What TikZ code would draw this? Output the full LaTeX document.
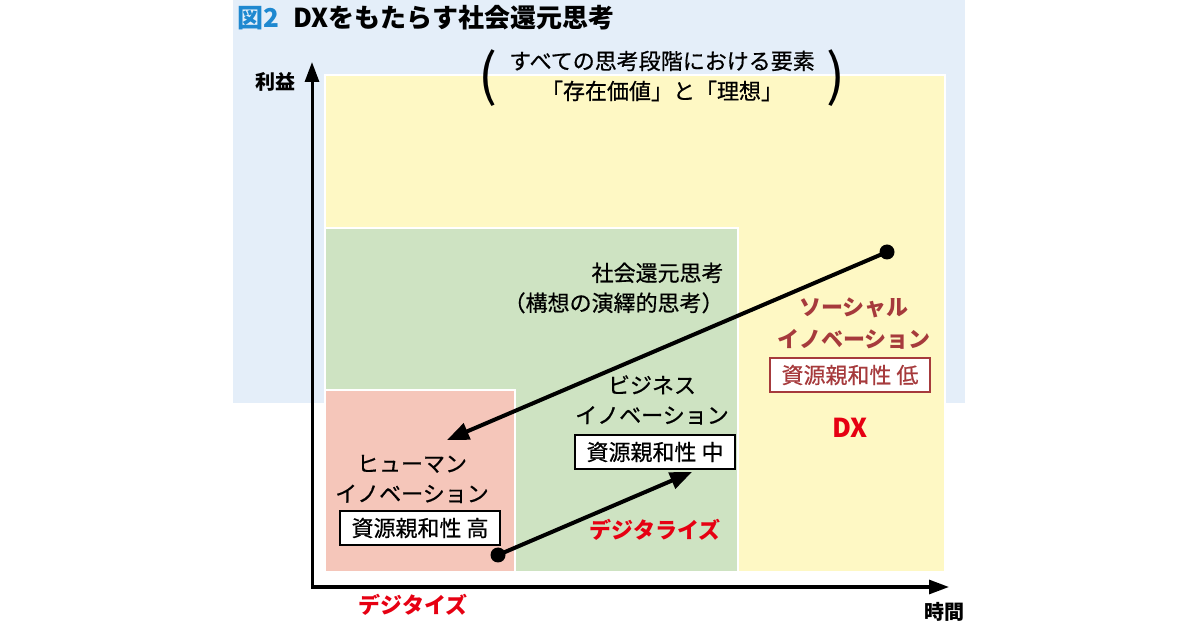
\documentclass[tikz,border=0pt]{standalone}
\usepackage{fontspec}
\setmainfont{Noto Sans CJK JP}
\newfontfamily\jpmed{Noto Sans CJK JP}[FakeBold=0.6]
\usetikzlibrary{arrows.meta}

\definecolor{panelblue}{HTML}{E4EEF9}
\definecolor{figblue}{HTML}{1E88D0}
\definecolor{dxyellow}{HTML}{FEF8C4}
\definecolor{bizgreen}{HTML}{CEE3C2}
\definecolor{humpink}{HTML}{F5C6BA}
\definecolor{dxred}{HTML}{E60012}
\definecolor{socred}{HTML}{A63A3C}

\begin{document}
\begin{tikzpicture}[x=0.5pt,y=-0.5pt,
	lbl/.style={font=\fontsize{11}{15}\selectfont\jpmed, align=center, inner sep=0pt},
	redlbl/.style={inner sep=0pt, text=dxred, font=\fontsize{11}{15}\selectfont\bfseries},
	valbox/.style={draw, line width=1.1pt, fill=white, font=\fontsize{11}{13}\selectfont\jpmed,
		minimum width=80pt, minimum height=17pt, inner sep=0pt},
	axis/.style={line width=1.5pt, line join=miter},
	arr/.style={line width=2pt, -{Triangle[length=11pt,width=8.5pt]}},
	dot/.style={circle, fill=black, inner sep=0pt, minimum size=7.5pt}]
	\useasboundingbox (0,0) rectangle (1200,630);
	
	\fill[panelblue] (233,0) rectangle (965,403);
	
	% phases
	\filldraw[fill=dxyellow, draw=white, line width=0.8pt] (325,75) rectangle (945,572);
	\filldraw[fill=bizgreen, draw=white, line width=0.8pt] (325,228) rectangle (738,572);
	\filldraw[fill=humpink, draw=white, line width=0.8pt] (325,390) rectangle (515,572);
	
	% axes
	\coordinate (origin) at (312,587);
	\coordinate (ytip) at (312,62);
	\coordinate (xtip) at (949,587);
	\draw[axis, {Triangle[length=10pt,width=7pt]}-{Triangle[length=10pt,width=7pt]}] (ytip) -- (origin) -- (xtip);
	\node[lbl, font=\fontsize{10}{12}\selectfont\bfseries] (ylab) at (275,82) {利益};
	\node[lbl, font=\fontsize{10}{12}\selectfont\bfseries] (xlab) at (944,612) {時間};
	
	% title
	\node[anchor=west, inner sep=0pt, text=figblue, font=\fontsize{13}{15}\selectfont\bfseries] (figno) at (237,18) {図2};
	\node[anchor=west, inner sep=0pt, font=\fontsize{13}{15}\selectfont\bfseries] (title) at (293,18) {DXをもたらす社会還元思考};
	
	\node[lbl] (allphase) at (662,76) {すべての思考段階における要素\\「存在価値」と「理想」};
	\node[inner sep=0pt, font=\fontsize{28}{28}\selectfont] (lpar) at (488,78) {(};
	\node[inner sep=0pt, font=\fontsize{28}{28}\selectfont] (rpar) at (836,78) {)};
	
	\node[lbl, align=right, anchor=east] (social) at (724,288) {社会還元思考\\（構想の演繹的思考）};
	
	% social innovation
	\node[lbl, text=socred, font=\fontsize{11}{16}\selectfont\bfseries] (socinno) at (854,324) {ソーシャル\\イノベーション};
	\node[valbox, draw=socred, text=socred] (lowbox) at (850,375) {資源親和性 低};
	\node[redlbl, font=\fontsize{13}{15}\selectfont\bfseries] (dx) at (850,428) {DX};
	
	% business innovation
	\node[lbl] (bizinno) at (652,400) {ビジネス\\イノベーション};
	\node[valbox] (midbox) at (655,452) {資源親和性 中};
	\node[redlbl] (digitalize) at (655,530) {デジタライズ};
	
	% human innovation
	\node[lbl] (huminno) at (412,479) {ヒューマン\\イノベーション};
	\node[valbox] (highbox) at (420,528) {資源親和性 高};
	\node[redlbl] (digitize) at (413,605) {デジタイズ};
	
	% arrows
	\node[dot] (socdot) at (887,252) {};
	\coordinate (humtip) at (447,440);
	\draw[arr] (socdot.center) -- (humtip);
	\node[dot] (humdot) at (498,555) {};
	\coordinate (biztip) at (692,472);
	\draw[arr] (humdot.center) -- (biztip);
\end{tikzpicture}
\end{document}
